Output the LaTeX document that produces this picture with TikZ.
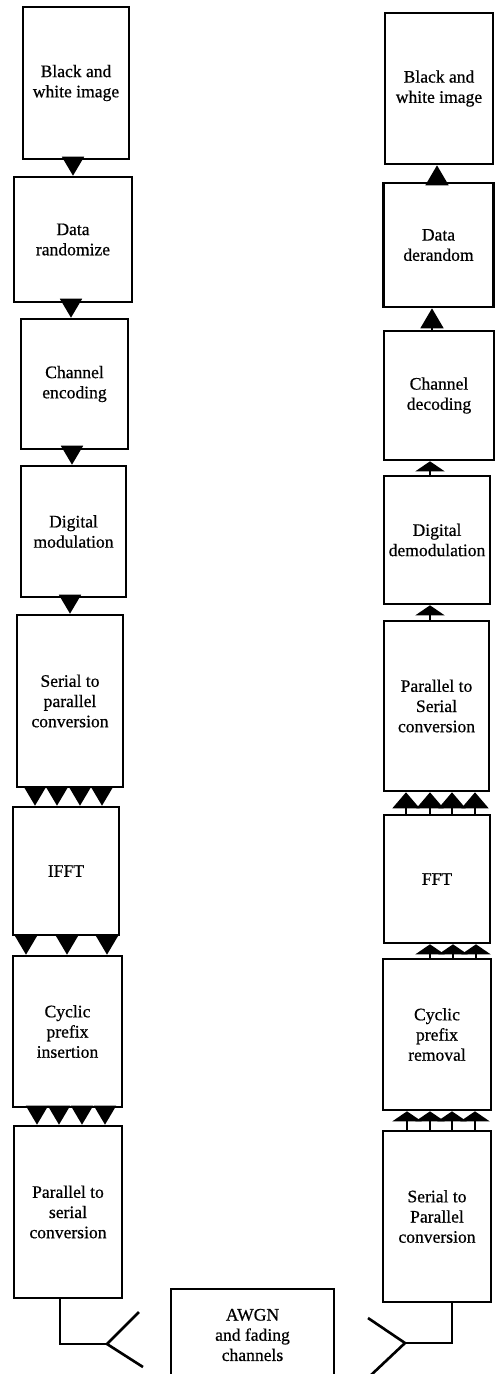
\documentclass[tikz,border=0pt]{standalone}
\usepackage{fontspec}
\setmainfont[FakeBold=0.6]{Liberation Serif}
\usetikzlibrary{arrows.meta}

\begin{document}
\begin{tikzpicture}[x=0.02cm, y=-0.02cm,
    block/.style={draw, line width=1.5pt, inner sep=0pt, align=center,
      font=\fontsize{10}{11.5}\selectfont},
    dn/.style={line width=1pt, -{Triangle[length=0.38cm, width=0.44cm]}},
    upflat/.style={line width=1pt, -{Triangle[length=0.2cm, width=0.58cm]}},
    uptall/.style={line width=1pt, -{Triangle[length=0.4cm, width=0.46cm]}},
    upmid/.style={line width=1pt, -{Triangle[length=0.32cm, width=0.54cm]}},
    feed/.style={line width=1.5pt}]

    \useasboundingbox (0,0) rectangle (496,1374);

            % Transmitter chain (left)
            \node[block, minimum width=2.12cm, minimum height=3.04cm] (bw) at (76,83) {Black and\\white image};
            \node[block, minimum width=2.36cm, minimum height=2.5cm] (rand) at (73,239.5) {Data\\randomize};
            \node[block, minimum width=2.14cm, minimum height=2.6cm] (enc) at (74.5,384) {Channel\\encoding};
            \node[block, minimum width=2.1cm, minimum height=2.62cm] (mod) at (73.5,531.5) {Digital\\modulation};
            \node[block, minimum width=2.12cm, minimum height=3.44cm] (sp) at (70,701) {Serial to\\parallel\\conversion};
            \node[block, minimum width=2.12cm, minimum height=2.56cm] (ifft) at (66,871) {IFFT};
            \node[block, minimum width=2.18cm, minimum height=3.02cm] (cpi) at (67.5,1031.5) {Cyclic\\prefix\\insertion};
            \node[block, minimum width=2.16cm, minimum height=3.44cm] (ps) at (68,1212) {Parallel to\\serial\\conversion};

            % Receiver chain (right)
            \node[block, minimum width=2.16cm, minimum height=3.02cm] (bwR) at (439,88.5) {Black and\\white image};
            \node[block, minimum width=2.2cm, minimum height=2.48cm] (derand) at (438.5,245) {Data\\derandom};
            \node[block, minimum width=2.2cm, minimum height=2.58cm] (dec) at (439,395.5) {Channel\\decoding};
            \node[block, minimum width=2.12cm, minimum height=2.56cm] (demod) at (437,540) {Digital\\demodulation};
            \node[block, minimum width=2.1cm, minimum height=3.4cm] (psR) at (436.5,706) {Parallel to\\Serial\\conversion};
            \node[block, minimum width=2.12cm, minimum height=2.56cm] (fft) at (437,879) {FFT};
            \node[block, minimum width=2.16cm, minimum height=3.02cm] (cpr) at (437,1034.5) {Cyclic\\prefix\\removal};
            \node[block, minimum width=2.16cm, minimum height=3.42cm] (spR) at (437,1216.5) {Serial to\\Parallel\\conversion};

            % Channel
            \node[block, minimum width=3.26cm, minimum height=1.84cm] (awgn) at (252.5,1335) {AWGN\\and fading\\channels};

            % Arrows down the transmitter
            \foreach \a/\b/\x in {bw/rand/73, rand/enc/71, enc/mod/72, mod/sp/70}
                \draw[dn] (\x,0 |- \a.south) -- (\x,0 |- \b.north);
            \foreach \x in {35,57,80,102}
                \draw[dn] (\x,0 |- sp.south) -- (\x,0 |- ifft.north);
            \foreach \x in {26,67,107}
                \draw[dn] (\x,0 |- ifft.south) -- (\x,0 |- cpi.north);
            \foreach \x in {37,59,82,105}
                \draw[dn] (\x,0 |- cpi.south) -- (\x,0 |- ps.north);

            % Arrows up the receiver
            \foreach \x in {407,430,452,475}
                \draw[upflat] (\x,0 |- spR.north) -- (\x,0 |- cpr.south);
            \foreach \x in {430,453,476}
                \draw[upflat] (\x,0 |- cpr.north) -- (\x,0 |- fft.south);
            \foreach \x in {406,430,452,475}
                \draw[upmid] (\x,0 |- fft.north) -- (\x,0 |- psR.south);
            \draw[upflat] (430,0 |- psR.north) -- (430,0 |- demod.south);
            \draw[upflat] (430,0 |- demod.north) -- (430,0 |- dec.south);
            \draw[uptall] (432,0 |- dec.north) -- (432,0 |- derand.south);
            \draw[uptall] (437,0 |- derand.north) -- (437,0 |- bwR.south);

            % Antennas
            \coordinate (antL) at (107,1344);
            \coordinate (antLa) at (139,1312);
            \coordinate (antLb) at (143,1367);
            \coordinate (antR) at (405,1343);
            \coordinate (antRa) at (368,1318);
            \coordinate (antRb) at (370,1376);
            \draw[feed] (60,0 |- ps.south) |- (antL);
            \draw[feed] (antLa) -- (antL) -- (antLb);
            \draw[feed] (452,0 |- spR.south) |- (antR);
            \draw[feed] (antRa) -- (antR) -- (antRb);
        \end{tikzpicture}
\end{document}
